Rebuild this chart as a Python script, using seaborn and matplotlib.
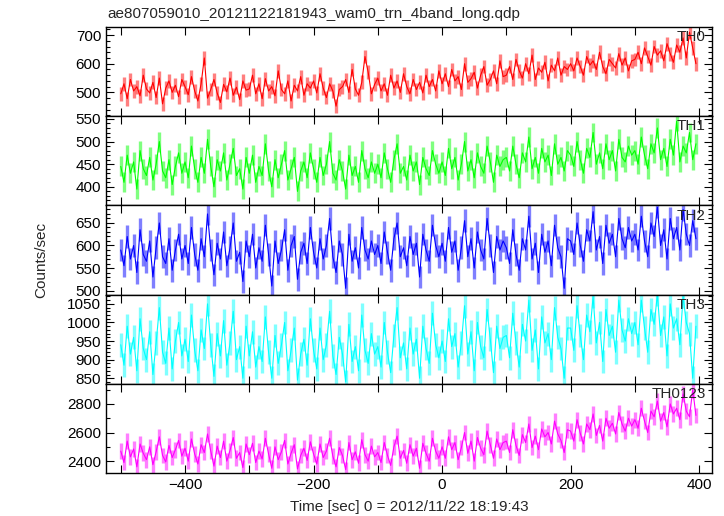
import numpy as np
import pandas as pd
import matplotlib
matplotlib.use("Agg")
import matplotlib.pyplot as plt
import matplotlib.ticker as mticker
import seaborn as sns

sns.set_style("ticks")
plt.rcParams['font.family'] = ['Liberation Sans', 'DejaVu Sans']

# light curve, 5 s bins, t = 0 at 2012/11/22 18:19:43
time_sec = np.arange(-500, 400, 5)

th0 = [495, 530, 478, 545, 505, 520, 488, 560, 512, 498, 535, 482, 550, 460, 515, 540, 500, 525, 485, 545,
       520, 492, 555, 505, 470, 530, 620, 480, 510, 545, 498, 465, 528, 502, 550, 490, 518, 475, 540, 508,
       512, 560, 495, 530, 478, 548, 505, 520, 488, 575, 510, 495, 540, 470, 525, 505, 555, 490, 530, 515,
       540, 498, 565, 515, 482, 530, 505, 452, 510, 520, 545, 500, 580, 512, 490, 535, 625, 570, 495, 528,
       550, 505, 530, 490, 560, 515, 540, 500, 565, 520, 495, 545, 510, 535, 498, 560, 520, 545, 505, 575,
       530, 565, 520, 580, 540, 555, 510, 600, 535, 548, 570, 515, 560, 590, 525, 545, 575, 530, 610, 555,
       560, 590, 545, 615, 575, 550, 600, 565, 630, 545, 585, 570, 605, 540, 595, 575, 620, 560, 590, 580,
       600, 575, 620, 590, 560, 625, 595, 610, 580, 640, 590, 565, 615, 600, 585, 635, 595, 620, 575, 610,
       615, 640, 600, 655, 625, 595, 660, 630, 645, 610, 670, 635, 605, 665, 640, 690, 620, 710, 655, 600]

th1 = [445, 410, 470, 430, 455, 395, 480, 440, 425, 465, 415, 450, 500, 435, 420, 460, 405, 445, 475, 430,
       455, 420, 490, 440, 410, 465, 430, 505, 445, 400, 460, 435, 475, 415, 450, 485, 425, 440, 395, 465,
       430, 470, 410, 445, 425, 495, 435, 400, 460, 420, 450, 480, 415, 440, 465, 390, 435, 455, 420, 475,
       440, 410, 465, 425, 450, 500, 430, 415, 460, 435, 395, 470, 425, 445, 410, 480, 440, 420, 455, 430,
       450, 420, 475, 440, 410, 460, 495, 430, 445, 415, 470, 435, 455, 405, 465, 440, 425, 480, 450, 430,
       455, 425, 485, 440, 465, 415, 450, 500, 435, 460, 420, 475, 445, 430, 490, 455, 410, 470, 445, 460,
       465, 435, 490, 450, 420, 475, 455, 510, 440, 465, 430, 485, 455, 470, 425, 495, 450, 465, 435, 480,
       470, 445, 500, 460, 430, 485, 465, 520, 450, 475, 440, 495, 460, 480, 435, 505, 465, 455, 490, 470,
       480, 450, 510, 470, 440, 495, 475, 530, 460, 485, 445, 505, 470, 545, 455, 490, 475, 520, 460, 495]

th2 = [590, 555, 620, 570, 600, 540, 635, 580, 565, 610, 530, 595, 650, 575, 560, 615, 545, 590, 625, 570,
       600, 560, 640, 580, 545, 615, 575, 670, 590, 535, 605, 570, 630, 555, 595, 650, 565, 585, 520, 610,
       575, 625, 550, 595, 565, 645, 580, 510, 610, 560, 590, 635, 545, 600, 620, 525, 585, 605, 560, 640,
       585, 550, 615, 570, 600, 660, 575, 540, 610, 580, 505, 625, 565, 595, 550, 640, 590, 570, 610, 580,
       600, 560, 630, 585, 545, 615, 650, 575, 595, 555, 620, 580, 605, 530, 625, 590, 565, 645, 600, 575,
       605, 565, 640, 585, 610, 545, 595, 655, 575, 615, 550, 630, 590, 570, 660, 600, 540, 620, 590, 610,
       595, 560, 635, 580, 545, 615, 590, 665, 570, 605, 540, 625, 585, 610, 555, 645, 595, 575, 505, 615,
       610, 580, 650, 600, 565, 635, 610, 675, 590, 620, 560, 645, 605, 625, 575, 660, 615, 595, 640, 610,
       625, 590, 665, 610, 575, 650, 620, 685, 600, 635, 570, 660, 615, 640, 590, 680, 625, 600, 655, 615]

th3 = [940, 885, 990, 915, 960, 870, 1010, 930, 900, 975, 860, 945, 1040, 920, 890, 985, 875, 950, 1000, 910,
       955, 895, 1020, 925, 870, 980, 930, 1050, 940, 855, 970, 910, 1005, 885, 945, 1030, 900, 935, 850, 990,
       910, 975, 880, 935, 895, 1015, 920, 850, 965, 890, 940, 1000, 870, 925, 985, 845, 915, 955, 885, 1010,
       925, 875, 985, 900, 940, 1030, 910, 860, 960, 915, 840, 995, 895, 935, 870, 1020, 925, 890, 970, 915,
       935, 880, 1000, 920, 865, 965, 1040, 905, 945, 875, 985, 915, 955, 850, 990, 930, 890, 1025, 940, 905,
       950, 895, 1010, 935, 970, 880, 945, 1045, 915, 975, 870, 1000, 935, 905, 1035, 955, 865, 990, 930, 960,
       965, 905, 1025, 945, 880, 995, 950, 1060, 925, 980, 875, 1015, 945, 970, 900, 1040, 960, 930, 850, 985,
       985, 925, 1045, 965, 900, 1020, 975, 1070, 945, 1000, 895, 1035, 965, 990, 920, 1060, 980, 950, 1010, 970,
       1000, 940, 1060, 985, 920, 1035, 995, 1075, 965, 1015, 910, 1050, 985, 1010, 940, 1070, 1000, 970, 850, 990]

th0123 = [2470, 2390, 2540, 2430, 2485, 2360, 2520, 2455, 2410, 2500, 2375, 2465, 2570, 2440, 2395, 2510, 2425, 2480, 2545, 2435,
          2490, 2400, 2555, 2450, 2380, 2515, 2460, 2590, 2470, 2365, 2505, 2425, 2540, 2400, 2475, 2565, 2420, 2460, 2355, 2520,
          2445, 2525, 2390, 2470, 2415, 2560, 2450, 2350, 2500, 2410, 2465, 2545, 2380, 2455, 2515, 2345, 2440, 2490, 2405, 2535,
          2450, 2380, 2520, 2425, 2470, 2560, 2435, 2360, 2495, 2440, 2340, 2530, 2410, 2465, 2385, 2550, 2445, 2400, 2505, 2430,
          2460, 2390, 2530, 2440, 2370, 2500, 2575, 2420, 2475, 2385, 2515, 2435, 2490, 2350, 2525, 2455, 2400, 2560, 2470, 2420,
          2500, 2420, 2570, 2480, 2530, 2410, 2495, 2600, 2455, 2540, 2400, 2565, 2490, 2445, 2610, 2515, 2420, 2555, 2480, 2530,
          2540, 2460, 2620, 2510, 2440, 2585, 2530, 2660, 2495, 2575, 2480, 2625, 2570, 2600, 2520, 2680, 2590, 2545, 2460, 2620,
          2610, 2540, 2690, 2595, 2520, 2660, 2620, 2730, 2580, 2650, 2540, 2700, 2630, 2665, 2590, 2740, 2660, 2610, 2700, 2645,
          2690, 2630, 2770, 2680, 2600, 2750, 2710, 2820, 2680, 2740, 2640, 2800, 2730, 2770, 2690, 2870, 2750, 2710, 2900, 2720]

bands = ["TH0", "TH1", "TH2", "TH3", "TH0123"]
rates = [th0, th1, th2, th3, th0123]
rate_err = [24, 22, 25, 32, 55]  # typical 1 sigma per band
colors = ["#ff0000", "#00ff00", "#0000ff", "#00ffff", "#ff00ff"]
ylims = [(417, 728), (359, 556), (491, 689), (835, 1075), (2317, 2941)]
major_step = [100, 50, 50, 50, 200]
minor_step = [20, 10, 10, 10, 100]

frames = []
for b, r, e in zip(bands, rates, rate_err):
    assert len(r) == len(time_sec), b
    frames.append(pd.DataFrame({"time": time_sec, "rate": r, "err": e, "band": b}))
lc = pd.concat(frames, ignore_index=True)

fig, axes = plt.subplots(5, 1, sharex=True, figsize=(7.24, 5.16), dpi=100)
fig.subplots_adjust(left=106/724, right=712/724, top=1-27/516, bottom=1-473/516, hspace=0)

for i, ax in enumerate(axes):
    d = lc[lc.band == bands[i]]
    # error bars, drawn wide and light so they fill in like the qdp plot
    ax.vlines(d.time, d.rate - d.err, d.rate + d.err, color=colors[i], alpha=0.5, lw=2.4)
    sns.lineplot(data=d, x="time", y="rate", color=colors[i], lw=0.8, estimator=None, ax=ax)
    ax.set_ylim(*ylims[i])
    ax.set_xlim(-523, 420)
    ax.set_xlabel("")
    ax.set_ylabel("")
    ax.yaxis.set_major_locator(mticker.MultipleLocator(major_step[i]))
    ax.yaxis.set_minor_locator(mticker.MultipleLocator(minor_step[i]))
    ax.xaxis.set_major_locator(mticker.MultipleLocator(100))
    ax.xaxis.set_major_formatter(mticker.FuncFormatter(lambda v, p: f"{v:.0f}".replace("-", "\u2212") if v % 200 == 0 else ""))
    ax.tick_params(which="both", direction="in", top=True, right=True, labelsize=11, colors="black", width=0.8)
    ax.tick_params(which="major", length=6)
    ax.tick_params(which="minor", length=3)
    for s in ax.spines.values():
        s.set_color("black")
        s.set_linewidth(1.0)
    ax.text(0.99, 0.965, bands[i], transform=ax.transAxes, ha="right", va="top", fontsize=11)

fig.text(107/724, 1-14/516, "ae807059010_20121122181943_wam0_trn_4band_long.qdp", ha="left", va="center", fontsize=11)
fig.text(41/724, 1-260/516, "Counts/sec", rotation=90, ha="center", va="center", fontsize=11)
fig.text(409/724, 1-507/516, "Time [sec] 0 = 2012/11/22 18:19:43", ha="center", va="center", fontsize=11)

fig.savefig("out.png", dpi=100)
